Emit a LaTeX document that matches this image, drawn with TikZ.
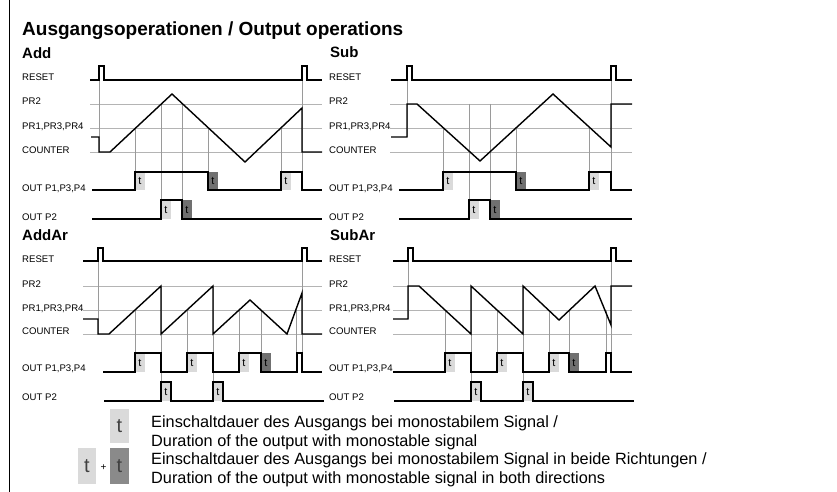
\documentclass[tikz,border=0pt]{standalone}
\usepackage{fontspec}
\setmainfont{Liberation Sans}
\definecolor{gridc}{HTML}{B4B4B4}
\definecolor{vlc}{HTML}{9A9A9A}
\definecolor{lightt}{HTML}{DADADA}
\definecolor{darkt}{HTML}{707070}
\definecolor{legdark}{HTML}{8A8A8A}
\newcommand\tbx[5]{\fill[#5] (#2,#3) rectangle ({#2+10},#4); \node[tlbl] (#1) at ({#2+5},{(#3+#4)/2}) {t};}
\begin{document}
\begin{tikzpicture}[x=1pt,y=-1pt,
  sig/.style={line width=1.4pt,line join=miter},
  gridl/.style={line width=0.8pt,draw=gridc},
  vl/.style={line width=0.6pt,draw=vlc},
  lbl/.style={anchor=base west,inner sep=0pt,font=\fontsize{9.6}{11}\selectfont},
  ptitle/.style={anchor=base west,inner sep=0pt,font=\bfseries\fontsize{15}{17}\selectfont},
  tlbl/.style={inner sep=0pt,font=\fontsize{11}{12}\selectfont},
  tlight/.style={fill=lightt}, tdark/.style={fill=darkt},
  legt/.style={anchor=base west,inner sep=0pt,font=\fontsize{16.3}{19}\selectfont}]
\useasboundingbox (0,0) rectangle (837,492);
\fill[white] (0,0) rectangle (837,492);
\draw[line width=1pt] (9,0) -- (9,492);
\node[anchor=base west,inner sep=0pt,font=\bfseries\fontsize{19}{22}\selectfont] (title) at (22,36) {Ausgangsoperationen / Output operations};
% ---------- panel titles
\node[ptitle] (tAdd) at (22,59) {Add};
\node[ptitle] (tSub) at (330,58) {Sub};
\node[ptitle] (tAddAr) at (22,240) {AddAr};
\node[ptitle] (tSubAr) at (330,240) {SubAr};
% ---------- labels
\foreach \px/\pn in {22/a,329/b}{
  \node[lbl] (\pn reset) at (\px,81) {RESET};
  \node[lbl] (\pn prtwo) at (\px,105) {PR2};
  \node[lbl] (\pn prone) at (\px,129.5) {PR1,PR3,PR4};
  \node[lbl] (\pn counter) at (\px,153) {COUNTER};
  \node[lbl] (\pn outone) at (\px,191.5) {OUT P1,P3,P4};
  \node[lbl] (\pn outtwo) at (\px,220.5) {OUT P2};
  \node[lbl] (\pn Rreset) at (\px,262) {RESET};
  \node[lbl] (\pn Rprtwo) at (\px,287) {PR2};
  \node[lbl] (\pn Rprone) at (\px,311) {PR1,PR3,PR4};
  \node[lbl] (\pn Rcounter) at (\px,334) {COUNTER};
  \node[lbl] (\pn Routone) at (\px,371.5) {OUT P1,P3,P4};
  \node[lbl] (\pn Routtwo) at (\px,400.5) {OUT P2};
}
% ---------- grid lines
\foreach \y in {104,128,152}{
  \draw[gridl] (90,\y) -- (322,\y);
  \draw[gridl] (390,\y) -- (632,\y);}
\foreach \y in {286,310,334}{
  \draw[gridl] (83,\y) -- (322,\y);
  \draw[gridl] (393,\y) -- (632,\y);}
% ---------- vertical guide lines : Add
\draw[vl] (99,66) -- (99,152);
\draw[vl] (302,66) -- (302,190);
\foreach \x in {135,208,281}{\draw[vl] (\x,128) -- (\x,190);}
\foreach \x in {161,182}{\draw[vl] (\x,104) -- (\x,219);}
% Sub
\draw[vl] (407,66) -- (407,137);
\draw[vl] (611,66) -- (611,190);
\foreach \x in {443,516,589}{\draw[vl] (\x,128) -- (\x,190);}
\foreach \x in {469,490}{\draw[vl] (\x,104) -- (\x,219);}
% AddAr
\draw[vl] (98,248) -- (98,334);
\draw[vl] (302,248) -- (302,372);
\foreach \x in {135,187,239,261,296}{\draw[vl] (\x,310) -- (\x,372);}
\foreach \x in {161,213}{\draw[vl] (\x,286) -- (\x,401);}
% SubAr
\draw[vl] (408,248) -- (408,319);
\draw[vl] (611,248) -- (611,372);
\foreach \x in {445,497,549,569,606}{\draw[vl] (\x,310) -- (\x,372);}
\foreach \x in {471,523}{\draw[vl] (\x,286) -- (\x,401);}
% ---------- t boxes
\tbx{a1}{135}{172}{190}{tlight}
\tbx{a2}{208}{172}{190}{tdark}
\tbx{a3}{281}{172}{190}{tlight}
\tbx{a4}{161}{200}{219}{tlight}
\tbx{a5}{182}{200}{219}{tdark}
\tbx{b1}{443}{172}{190}{tlight}
\tbx{b2}{516}{172}{190}{tdark}
\tbx{b3}{589}{172}{190}{tlight}
\tbx{b4}{469}{200}{219}{tlight}
\tbx{b5}{490}{200}{219}{tdark}
\tbx{c1}{135}{353}{372}{tlight}
\tbx{c2}{187}{353}{372}{tlight}
\tbx{c3}{239}{353}{372}{tlight}
\tbx{c4}{261}{353}{372}{tdark}
\tbx{c5}{161}{382}{401}{tlight}
\tbx{c6}{213}{382}{401}{tlight}
\tbx{d1}{445}{353}{372}{tlight}
\tbx{d2}{497}{353}{372}{tlight}
\tbx{d3}{549}{353}{372}{tlight}
\tbx{d4}{569}{353}{372}{tdark}
\tbx{d5}{471}{382}{401}{tlight}
\tbx{d6}{523}{382}{401}{tlight}
% ---------- signals: Add
\draw[sig] (90,80) -- (99,80) -- (99,66) -- (104,66) -- (104,80) -- (302,80) -- (302,66) -- (307,66) -- (307,80) -- (322,80);
\draw[sig] (91,137) -- (99,137) -- (99,152) -- (110,152) -- (172,94) -- (245,162) -- (302,108) -- (302,152) -- (322,152);
\draw[sig] (92,190) -- (135,190) -- (135,172) -- (208,172) -- (208,190) -- (281,190) -- (281,172) -- (302,172) -- (302,190) -- (322,190);
\draw[sig] (92,219) -- (161,219) -- (161,200) -- (182,200) -- (182,219) -- (322,219);
% Sub
\draw[sig] (391,80) -- (407,80) -- (407,66) -- (412,66) -- (412,80) -- (611,80) -- (611,66) -- (616,66) -- (616,80) -- (632,80);
\draw[sig] (391,137) -- (407,137) -- (407,104) -- (417,104) -- (480,161) -- (553,94) -- (611,147) -- (611,104) -- (632,104);
\draw[sig] (399,190) -- (443,190) -- (443,172) -- (516,172) -- (516,190) -- (589,190) -- (589,172) -- (611,172) -- (611,190) -- (632,190);
\draw[sig] (399,219) -- (469,219) -- (469,200) -- (490,200) -- (490,219) -- (632,219);
% AddAr
\draw[sig] (83,261) -- (98,261) -- (98,248) -- (103,248) -- (103,261) -- (302,261) -- (302,248) -- (307,248) -- (307,261) -- (322,261);
\draw[sig] (83,319) -- (98,319) -- (98,334) -- (109,334) -- (161,286) -- (161,334) -- (213,286) -- (213,334) -- (250,300) -- (287,334) -- (302,293) -- (302,334) -- (322,334);
\draw[sig] (103,372) -- (135,372) -- (135,353) -- (161,353) -- (161,372) -- (187,372) -- (187,353) -- (213,353) -- (213,372) -- (239,372) -- (239,353) -- (261,353) -- (261,372) -- (297,372) -- (297,353) -- (302,353) -- (302,372) -- (322,372);
\draw[sig] (104,401) -- (161,401) -- (161,382) -- (171,382) -- (171,401) -- (213,401) -- (213,382) -- (223,382) -- (223,401) -- (324,401);
% SubAr
\draw[sig] (393,261) -- (408,261) -- (408,248) -- (413,248) -- (413,261) -- (611,261) -- (611,248) -- (616,248) -- (616,261) -- (632,261);
\draw[sig] (393,319) -- (408,319) -- (408,286) -- (419,286) -- (471,334) -- (471,286) -- (523,334) -- (523,286) -- (559,320) -- (595,286) -- (611,325) -- (611,286) -- (632,286);
\draw[sig] (393,372) -- (445,372) -- (445,353) -- (471,353) -- (471,372) -- (497,372) -- (497,353) -- (523,353) -- (523,372) -- (549,372) -- (549,353) -- (569,353) -- (569,372) -- (606,372) -- (606,353) -- (611,353) -- (611,372) -- (632,372);
\draw[sig] (394,401) -- (471,401) -- (471,382) -- (481,382) -- (481,401) -- (523,401) -- (523,382) -- (533,382) -- (533,401) -- (634,401);
% ---------- legend
\fill[lightt] (110,409) rectangle (129,443);
\node[inner sep=0pt,font=\fontsize{20}{22}\selectfont,text=black!75] (legt1) at (119.5,426) {t};
\fill[lightt] (78,448) rectangle (96,484);
\node[inner sep=0pt,font=\fontsize{20}{22}\selectfont,text=black!75] (legt2) at (87,466) {t};
\node[inner sep=0pt,font=\fontsize{10}{12}\selectfont] (legplus) at (103.5,468) {+};
\fill[legdark] (110,448) rectangle (129,484);
\node[inner sep=0pt,font=\fontsize{20}{22}\selectfont,text=black!75] (legt3) at (119.5,466) {t};
\node[legt] (leg1) at (151,427.5) {Einschaltdauer des Ausgangs bei monostabilem Signal /};
\node[legt] (leg2) at (151,446.5) {Duration of the output with monostable signal};
\node[legt] (leg3) at (151,464) {Einschaltdauer des Ausgangs bei monostabilem Signal in beide Richtungen /};
\node[legt] (leg4) at (151,483) {Duration of the output with monostable signal in both directions};
\end{tikzpicture}
\end{document}
